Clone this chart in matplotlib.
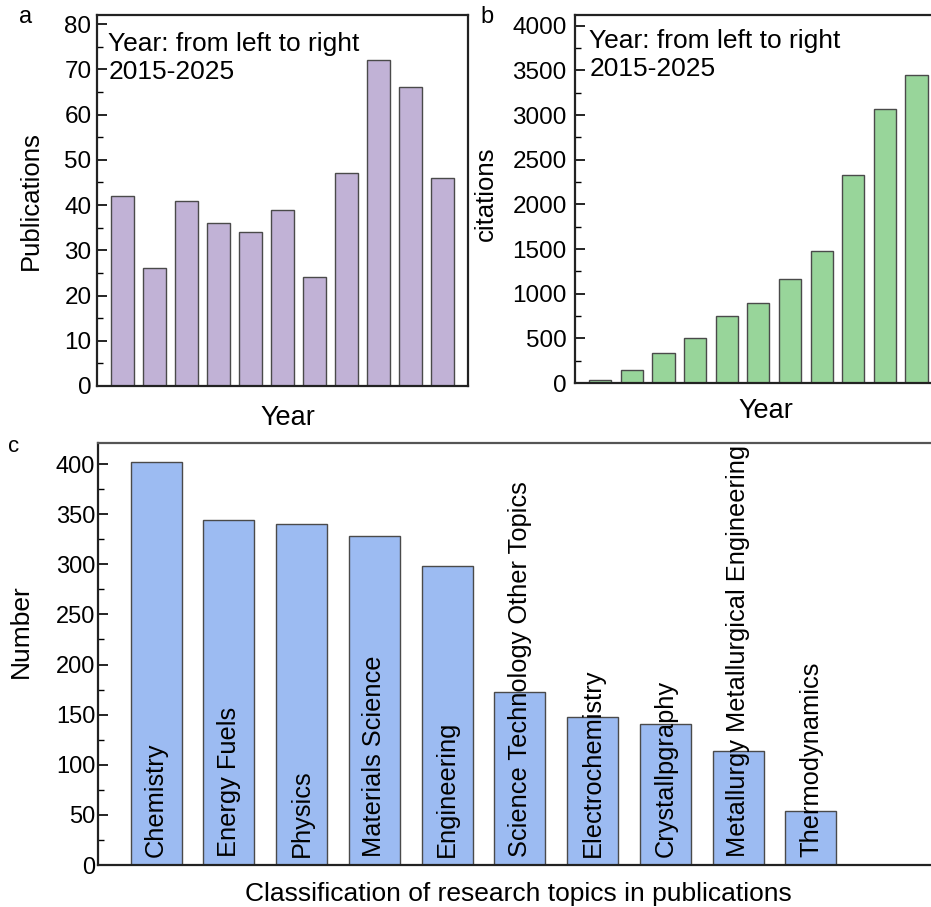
import matplotlib
matplotlib.use("Agg")
import matplotlib.pyplot as plt
from matplotlib.ticker import MultipleLocator

plt.rcParams["font.family"] = ["Liberation Sans", "DejaVu Sans"]

# data
years = list(range(2015, 2026))
publications = [42, 26, 41, 36, 34, 39, 24, 47, 72, 66, 46]
citations = [30, 150, 340, 505, 755, 900, 1165, 1480, 2325, 3070, 3445]
topics = ["Chemistry", "Energy Fuels", "Physics", "Materials Science", "Engineering",
          "Science Technology Other Topics", "Electrochemistry", "Crystallpgraphy",
          "Metallurgy Metallurgical Engineering", "Thermodynamics"]
topic_counts = [402, 344, 340, 328, 298, 173, 148, 141, 114, 54]

W, H = 931, 907
fig = plt.figure(figsize=(W / 100, H / 100), dpi=100)
narrow = ["Liberation Sans Narrow", "Liberation Sans", "DejaVu Sans"]


def box(left, top, right, bottom):
    return [left / W, 1 - bottom / H, (right - left) / W, (bottom - top) / H]


def style_axis(ax, major, minor, tick_size=17.5, pad=4):
    ax.yaxis.set_major_locator(MultipleLocator(major))
    ax.yaxis.set_minor_locator(MultipleLocator(minor))
    ax.tick_params(axis="y", which="major", direction="in", length=7, width=1.2, labelsize=tick_size, pad=pad)
    ax.tick_params(axis="y", which="minor", direction="in", length=4, width=1.0)
    ax.tick_params(axis="x", which="both", bottom=False, labelbottom=False)
    for s in ax.spines.values():
        s.set_linewidth(1.6)
        s.set_color("#222222")


edge = "#4a4a4a"
note = "Year: from left to right\n2015-2025"

# a: publications per year
ax_a = fig.add_axes(box(97, 15, 468, 386))
pos = list(range(len(years)))
ax_a.bar(pos, publications, width=0.7, color="#c1b2d6", edgecolor=edge, linewidth=1.0)
ax_a.set_xlim(-0.8, 10.8)
ax_a.set_ylim(0, 82)
style_axis(ax_a, 10, 5)
ax_a.set_ylabel("Publications", fontsize=18.5)
ax_a.yaxis.set_label_coords(-0.146, 0.5)
ax_a.set_xlabel("Year", fontsize=19.5)
ax_a.xaxis.set_label_coords(0.515, -0.05)
ax_a.xaxis.label.set_va("top")
ax_a.text(0.03, 0.955, note, transform=ax_a.transAxes,
          fontsize=19, va="top", ha="left", linespacing=1.22)
fig.text(26 / W, 1 - 17 / H, "a", fontsize=17, ha="center", va="center")

# b: citations per year
ax_b = fig.add_axes(box(575, 15, 931, 383))
ax_b.bar(pos, citations, width=0.7, color="#98d59a", edgecolor=edge, linewidth=1.0)
ax_b.set_xlim(-0.8, 10.46)
ax_b.set_ylim(0, 4120)
style_axis(ax_b, 500, 250, pad=6)
ax_b.spines["right"].set_visible(False)
ax_b.set_ylabel("citations", fontsize=18.5)
ax_b.yaxis.set_label_coords(-0.218, 0.514)
ax_b.set_xlabel("Year", fontsize=19.5)
ax_b.xaxis.set_label_coords(0.535, -0.04)
ax_b.xaxis.label.set_va("top")
ax_b.text(0.04, 0.963, note, transform=ax_b.transAxes,
          fontsize=19, va="top", ha="left", linespacing=1.22)
fig.text(487 / W, 1 - 17 / H, "b", fontsize=17, ha="center", va="center")

# c: research topics
ax_c = fig.add_axes(box(98, 443, 931, 865))
tpos = list(range(len(topics)))
ax_c.bar(tpos, topic_counts, width=0.7, color="#9cbbf2", edgecolor=edge, linewidth=1.0)
for x, name in zip(tpos, topics):
    ax_c.text(x, 8, name, rotation=90, ha="center", va="bottom", fontsize=18.3)
ax_c.set_xlim(-0.8, 10.65)
ax_c.set_ylim(0, 421)
style_axis(ax_c, 50, 25, tick_size=17, pad=2)
for lab in ax_c.get_yticklabels():
    lab.set_family(narrow)
ax_c.spines["right"].set_visible(False)
ax_c.spines["top"].set_color("#555555")
ax_c.set_ylabel("Number", fontsize=19, family=narrow)
ax_c.yaxis.set_label_coords(-0.078, 0.555)
ax_c.set_xlabel("Classification of research topics in publications", fontsize=19)
ax_c.xaxis.set_label_coords(0.505, -0.096)
ax_c.xaxis.label.set_va("bottom")
fig.text(14 / W, 1 - 446 / H, "c", fontsize=16, ha="center", va="center")

fig.savefig("out.png", dpi=100)
